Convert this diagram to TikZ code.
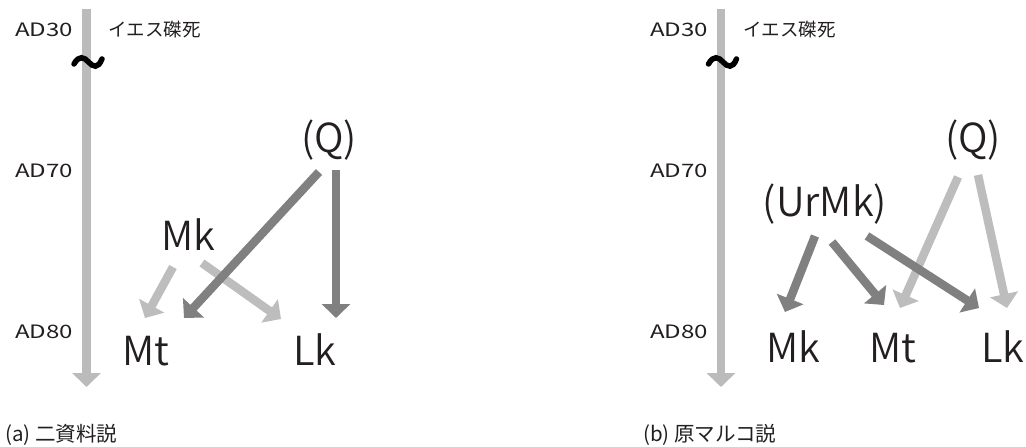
\documentclass[tikz,border=0pt]{standalone}
\usepackage{fontspec}
\setmainfont{Noto Sans CJK JP}
% slightly thinner face for the large labels, when that weight is installed
\IfFontExistsTF{Noto Sans CJK JP DemiLight}
  {\newfontfamily\labelface{Noto Sans CJK JP DemiLight}}
  {\newfontfamily\labelface{Noto Sans CJK JP}}
% widened face for the year marks
\newfontfamily\yearface{Noto Sans CJK JP}[FakeStretch=1.3]
\usetikzlibrary{arrows.meta}

\definecolor{darkarrow}{HTML}{808080}
\definecolor{lightarrow}{HTML}{BDBDBD}
\definecolor{axisgray}{HTML}{BBBBBB}
\definecolor{ink}{HTML}{231F20}

\tikzset{
  flow/.style={line width=8.5pt, -{Triangle[width=28pt,length=14pt]}},
  darkflow/.style={flow, draw=darkarrow, fill=darkarrow},
  lightflow/.style={flow, draw=lightarrow, fill=lightarrow},
  timeaxis/.style={flow, draw=axisgray, fill=axisgray},
  wave/.style={line width=5.5pt, line cap=round, draw=black},
  yearlabel/.style={anchor=base west, inner sep=0pt, text=ink, font=\yearface\fontsize{18.5}{18.5}\selectfont},
  eventlabel/.style={anchor=base west, inner sep=0pt, text=ink, font=\fontsize{18.5}{18.5}\selectfont},
  caption/.style={anchor=base west, inner sep=0pt, text=ink, font=\fontsize{20.5}{20.5}\selectfont},
  gospel/.style={anchor=base, inner sep=0pt, text=ink, font=\labelface\fontsize{40}{40}\selectfont},
  source/.style={anchor=center, inner sep=0pt, text=ink, font=\labelface\fontsize{40}{40}\selectfont},
}

\begin{document}
\begin{tikzpicture}[x=1pt, y=-1pt]
\useasboundingbox (0,0) rectangle (1026,447);

% ---------------- (a) two-source hypothesis ----------------
\coordinate (aTop) at (86.5,9);
\coordinate (aEnd) at (86.5,387);
\draw[timeaxis] (aTop) -- (aEnd);
\draw[wave] (74,64) .. controls (79,55) and (84,57) .. (88.5,62)
            .. controls (93,67) and (98,69) .. (102,59);

\node[yearlabel] (a30) at (15,36) {AD30};
\node[yearlabel] (a70) at (15,177) {AD70};
\node[yearlabel] (a80) at (15,338) {AD80};
\node[eventlabel] (aCross) at (108,36) {イエス磔死};

\node[source] (aQ) at (329,140) {(Q)};
\node[gospel] (aMk) at (188,250) {Mk};
\node[gospel] (aMt) at (146,365) {Mt};
\node[gospel] (aLk) at (315,365) {Lk};

\coordinate (aMkL) at (173,267);
\coordinate (aMkR) at (202,263);
\coordinate (aQL) at (319,172);
\coordinate (aQR) at (336,170);
\coordinate (aMtIn1) at (145,318);
\coordinate (aMtIn2) at (184,318);
\coordinate (aLkIn1) at (281,319);
\coordinate (aLkIn2) at (336,318);

\draw[lightflow] (aMkL) -- (aMtIn1);
\draw[lightflow] (aMkR) -- (aLkIn1);
\draw[darkflow] (aQL) -- (aMtIn2);
\draw[darkflow] (aQR) -- (aLkIn2);

\node[caption] (aCap) at (5,441) {(a) 二資料説};

% ---------------- (b) Ur-Markus hypothesis ----------------
\coordinate (bTop) at (721,9);
\coordinate (bEnd) at (721,387);
\draw[timeaxis] (bTop) -- (bEnd);
\draw[wave] (708.5,64) .. controls (713.5,55) and (718.5,57) .. (723,62)
            .. controls (727.5,67) and (732.5,69) .. (736.5,59);

\node[yearlabel] (b30) at (650,36) {AD30};
\node[yearlabel] (b70) at (650,177) {AD70};
\node[yearlabel] (b80) at (650,338) {AD80};
\node[eventlabel] (bCross) at (743,36) {イエス磔死};

\node[source] (bUr) at (825,204) {(UrMk)};
\node[source] (bQ) at (973,140) {(Q)};
\node[gospel] (bMk) at (793,362) {Mk};
\node[gospel] (bMt) at (893,362) {Mt};
\node[gospel] (bLk) at (1003,362) {Lk};

\coordinate (bUr1) at (815,236);
\coordinate (bUr2) at (832,242);
\coordinate (bUr3) at (867,236);
\coordinate (bQL) at (958,177);
\coordinate (bQR) at (978,175);
\coordinate (bMkIn) at (785,312);
\coordinate (bMtIn1) at (884,305);
\coordinate (bMtIn2) at (900,308);
\coordinate (bLkIn1) at (979,308);
\coordinate (bLkIn2) at (1007,308);

\draw[lightflow] (bQL) -- (bMtIn2);
\draw[lightflow] (bQR) -- (bLkIn2);
\draw[darkflow] (bUr1) -- (bMkIn);
\draw[darkflow] (bUr2) -- (bMtIn1);
\draw[darkflow] (bUr3) -- (bLkIn1);

\node[caption] (bCap) at (643,441) {(b) 原マルコ説};
\end{tikzpicture}
\end{document}
